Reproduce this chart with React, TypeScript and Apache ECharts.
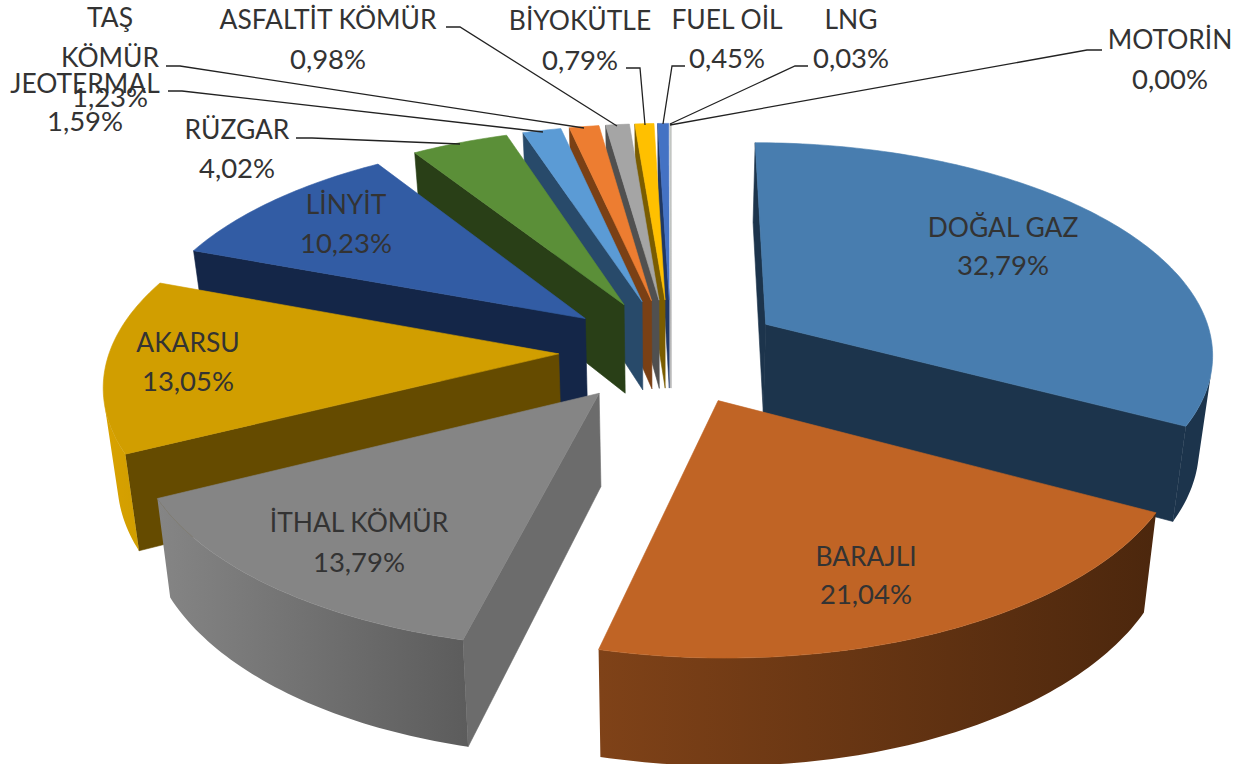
import React, { useEffect, useRef } from "react";
import * as echarts from "echarts";

const categories = ["DOĞAL GAZ", "BARAJLI", "İTHAL KÖMÜR", "AKARSU", "LİNYİT", "RÜZGAR", "JEOTERMAL", "TAŞ KÖMÜR", "ASFALTİT KÖMÜR", "BİYOKÜTLE", "FUEL OİL", "LNG", "MOTORİN"];
const shares = [32.79, 21.04, 13.79, 13.05, 10.23, 4.02, 1.59, 1.23, 0.98, 0.79, 0.45, 0.03, 0.0];

const topColors = ["#487DAF", "#C06425", "#858585", "#D19E00", "#325CA4", "#5B8F38", "#5B9BD5", "#ED7D31", "#A5A5A5", "#FFC000", "#4472C4", "#C4C8C4", "#C4C8C4"];
const faceColors = ["#1C344C", "#4C270D", "#6C6C6C", "#654B00", "#142648", "#293F17", "#284A6A", "#7A4015", "#505050", "#7A5C00", "#203864", "#B0B0B0", "#B0B0B0"];
const wallLeft = ["#1C344C", "#7F4218", "#858585", "#D9A200", "#142648", "#293F17", "#284A6A", "#7A4015", "#505050", "#7A5C00", "#203864", "#B0B0B0", "#B0B0B0"];
const wallRight = ["#1C344C", "#4C270D", "#5C5C5C", "#D19E00", "#142648", "#293F17", "#284A6A", "#7A4015", "#505050", "#7A5C00", "#203864", "#B0B0B0", "#B0B0B0"];

// label layout: one line of text per entry, [text lines, centre x, centre y of each line]
const labelLines: [string[], number, number[]][] = [
  [["DOĞAL GAZ"], 1003, [227, 264]],
  [["BARAJLI"], 866, [556, 593]],
  [["İTHAL KÖMÜR"], 359, [522, 561]],
  [["AKARSU"], 188, [342, 380]],
  [["LİNYİT"], 346, [204, 242]],
  [["RÜZGAR"], 237, [129, 167]],
  [["JEOTERMAL"], 85, [83, 120]],
  [["TAŞ", "KÖMÜR"], 110, [17, 57, 96]],
  [["ASFALTİT KÖMÜR"], 328, [19, 58]],
  [["BİYOKÜTLE"], 580, [20, 59]],
  [["FUEL OİL"], 727, [19, 57]],
  [["LNG"], 851, [19, 57]],
  [["MOTORİN"], 1170, [39, 78]],
];
const leaders: number[][][] = [
  [[296, 138], [312, 138], [460, 144]],
  [[168, 91], [182, 91], [543, 132]],
  [[166, 66], [180, 66], [584, 128]],
  [[446, 27], [460, 27], [617, 126]],
  [[626, 68], [640, 68], [645, 125]],
  [[685, 66], [672, 66], [663, 124]],
  [[808, 66], [795, 66], [670, 124]],
  [[1102, 50], [1087, 50], [670, 125]],
];

const CX = 671, CY = 351, RX = 449, RY = 211, PERSP = 0.127, H = 91, TAPER = 0.025, EXPLODE = 0.25;

function project(u: number, v: number, z: number): number[] {
  const d = 1 / (1 + PERSP * v);
  const x = CX + RX * u * d;
  return [CX + (x - CX) * (1 - TAPER * z), CY - RY * v * d + H * z * d];
}
const shoelace = (p: number[][]) => {
  let s = 0;
  for (let i = 0; i < p.length; i++) {
    const a = p[i], b = p[(i + 1) % p.length];
    s += a[0] * b[1] - b[0] * a[1];
  }
  return s;
};

const total = shares.reduce((a, b) => a + b, 0);
const starts: number[] = [];
shares.reduce((acc, s, i) => { starts[i] = acc; return acc + s; }, 0);
const toRad = (s: number) => (s / total) * Math.PI * 2;
const mids = shares.map((s, i) => toRad(starts[i] + s / 2));
const depthOrder = shares.map((_, i) => i).sort((a, b) => Math.cos(mids[b]) - Math.cos(mids[a]));

function renderItem(params: any, api: any) {
  const i = params.dataIndex;
  const value = api.value(0);
  if (!(value > 0)) return null;
  const t0 = toRad(starts[i]);
  const t1 = toRad(starts[i] + value);
  const ou = EXPLODE * Math.sin(mids[i]);
  const ov = EXPLODE * Math.cos(mids[i]);
  const rank = depthOrder.indexOf(i) * 10;
  const n = Math.max(2, Math.ceil((t1 - t0) / (Math.PI / 180)));
  const angles = Array.from({ length: n + 1 }, (_, k) => t0 + ((t1 - t0) * k) / n);
  const at = (t: number, z: number) => project(ou + Math.sin(t), ov + Math.cos(t), z);
  const tipTop = project(ou, ov, 0);
  const tipBot = project(ou, ov, 1);
  const children: any[] = [];
  const poly = (points: number[][], fill: any, stroke: string, z2: number) =>
    children.push({ type: "polygon", z2, shape: { points }, style: { fill, stroke, lineWidth: 0.6 } });

  const startFace = [tipTop, at(t0, 0), at(t0, 1), tipBot];
  const endFace = [tipTop, at(t1, 0), at(t1, 1), tipBot];
  if (shoelace(startFace) < 0) poly(startFace, faceColors[i], faceColors[i], rank);
  if (shoelace(endFace) > 0) poly(endFace, faceColors[i], faceColors[i], rank);

  const topEdge: number[][] = [];
  const botEdge: number[][] = [];
  for (let k = 0; k < n; k++) {
    const q = [at(angles[k], 0), at(angles[k + 1], 0), at(angles[k + 1], 1), at(angles[k], 1)];
    if (shoelace(q) < 0) {
      if (!topEdge.length) { topEdge.push(q[0]); botEdge.push(q[3]); }
      topEdge.push(q[1]); botEdge.push(q[2]);
    }
  }
  if (topEdge.length) {
    const fill = {
      type: "linear", x: 0, y: 0, x2: 1, y2: 0,
      colorStops: [{ offset: 0, color: wallLeft[i] }, { offset: 1, color: wallRight[i] }],
    };
    poly([...topEdge, ...botEdge.reverse()], fill, "none", rank + 1);
  }
  poly([tipTop, ...angles.map((t) => at(t, 0))], topColors[i], topColors[i], rank + 2);
  return { type: "group", children };
}

const percent = (v: number) => v.toFixed(2).replace(".", ",") + "%";

export default function App() {
  const ref = useRef<HTMLDivElement>(null);
  useEffect(() => {
    const chart = echarts.init(ref.current!, null, { renderer: "svg" });
    const texts: any[] = [];
    labelLines.forEach(([names, x, ys], i) => {
      const all = [...names, percent(shares[i])];
      all.forEach((text, k) => {
        const size = k === all.length - 1 ? 27.5 : 26.4;
        texts.push({
          type: "text", z: 100, x, y: ys[k],
          style: { text, font: `${size}px Lato, "Noto Sans", sans-serif`, fill: "#333333", textAlign: "center", textVerticalAlign: "middle" },
        });
      });
    });
    const lines = leaders.map((pts) => ({
      type: "polyline", z: 99, shape: { points: pts }, style: { stroke: "#222222", lineWidth: 1.3, fill: "none" },
    }));
    chart.setOption({
      animation: false,
      backgroundColor: "#FFFFFF",
      series: [{
        type: "custom",
        coordinateSystem: "none",
        renderItem,
        silent: true,
        clip: false,
        data: shares.map((v, i) => ({ name: categories[i], value: [v] })),
      }],
      graphic: { elements: [...lines, ...texts] },
    });
    return () => chart.dispose();
  }, []);
  return <div ref={ref} style={{ position: "fixed", left: 0, top: 0, width: 1247, height: 764 }} />;
}
